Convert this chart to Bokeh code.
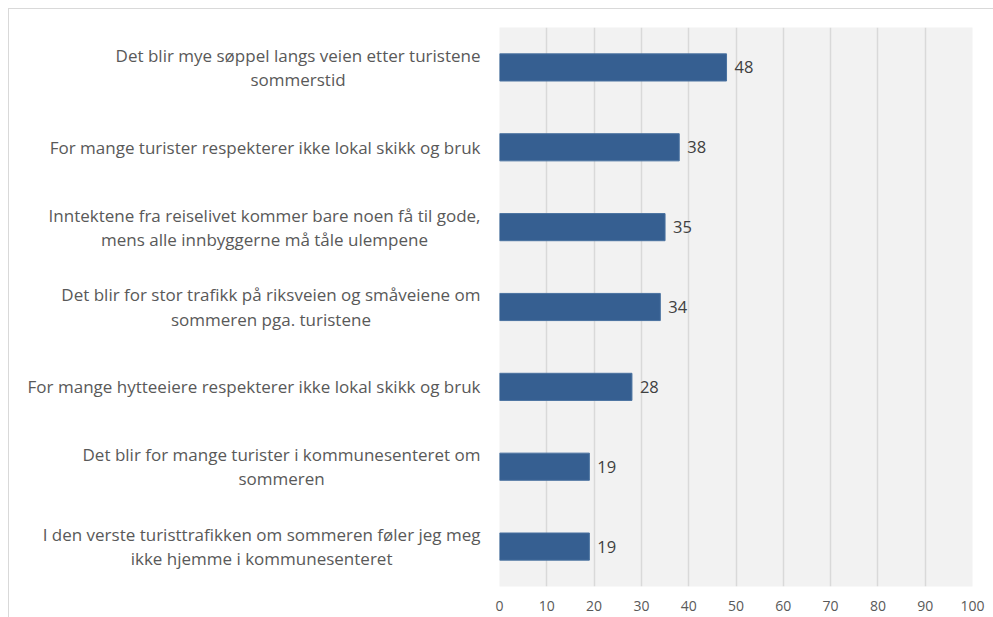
from bokeh.plotting import figure
from bokeh.models import ColumnDataSource, FactorRange, Range1d, FixedTicker
from bokeh.core.properties import value
from bokeh.embed import file_html
from bokeh.resources import INLINE

categories = [
    "Det blir mye søppel langs veien etter turistene\nsommerstid",
    "For mange turister respekterer ikke lokal skikk og bruk",
    "Inntektene fra reiselivet kommer bare noen få til gode,\nmens alle innbyggerne må tåle ulempene",
    "Det blir for stor trafikk på riksveien og småveiene om\nsommeren pga. turistene",
    "For mange hytteeiere respekterer ikke lokal skikk og bruk",
    "Det blir for mange turister i kommunesenteret om\nsommeren",
    "I den verste turisttrafikken om sommeren føler jeg meg\nikke hjemme i kommunesenteret",
]
values = [48, 38, 35, 34, 28, 19, 19]
x_ticks = [0, 10, 20, 30, 40, 50, 60, 70, 80, 90, 100]
x_start, x_end = 0, 100

src = ColumnDataSource(dict(cat=categories, val=values, lab=[str(v) for v in values]))

p = figure(
    width=985, height=609,
    y_range=FactorRange(factors=list(reversed(categories))),
    x_range=Range1d(x_start, x_end),
    output_backend="svg", toolbar_location=None,
    min_border_left=490, min_border_right=22, min_border_top=18, min_border_bottom=32,
    background_fill_color="#f2f2f2", border_fill_color="white",
    styles={"margin-left": "8px", "margin-top": "8px",
            "border-top": "1px solid #d9d9d9", "border-left": "1px solid #d9d9d9"},
)
p.outline_line_color = None

p.hbar(y="cat", right="val", left=x_start, height=0.34, source=src,
       fill_color="#365f91", line_color="#4a72a0", line_width=1)

p.text(x="val", y="cat", text="lab", source=src, x_offset=8,
       text_baseline="middle", text_align="left",
       text_font=value("Open Sans"), text_font_size="16.5px", text_color="#404040")

# category labels: block anchored at the right, lines centred
p.text(x=x_start, y="cat", text="cat", source=src, x_offset=-19,
       anchor="center_right", text_align="center", text_baseline="middle",
       text_font=value("Open Sans"), text_font_size="17px", text_color="#595959",
       text_line_height=1.05, level="overlay")

p.xaxis.ticker = FixedTicker(ticks=x_ticks)
p.xaxis.axis_line_color = None
p.xaxis.major_tick_line_color = None
p.xaxis.minor_tick_line_color = None
p.xaxis.major_label_text_font = "Open Sans"
p.xaxis.major_label_text_font_size = "14px"
p.xaxis.major_label_text_color = "#595959"
p.xaxis.major_label_standoff = 8

p.yaxis.axis_line_color = None
p.yaxis.major_tick_line_color = None
p.yaxis.minor_tick_line_color = None
p.yaxis.major_label_text_font_size = "0px"
p.yaxis.major_label_text_color = None

p.xgrid.grid_line_color = "#d9d9d9"
p.xgrid.grid_line_width = 1.5
p.ygrid.grid_line_color = None

open("out.html", "w").write(file_html(p, INLINE))
